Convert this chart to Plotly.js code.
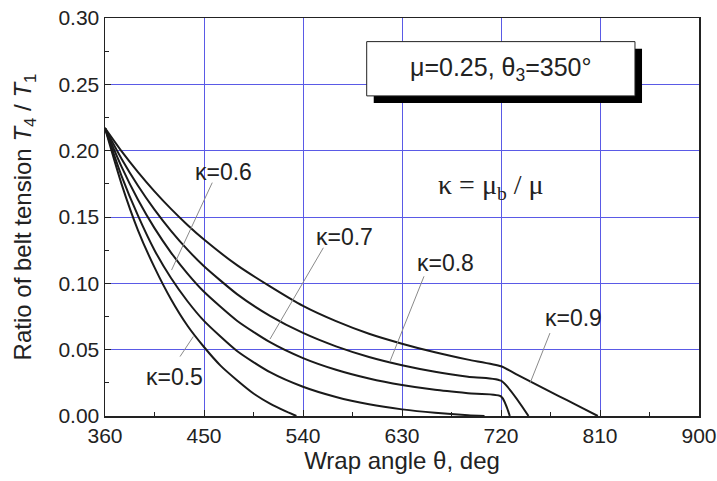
<!DOCTYPE html>
<html>
<head>
<meta charset="utf-8">
<script src="https://cdn.plot.ly/plotly-3.0.1.min.js"></script>
<style>html,body{margin:0;padding:0;background:#fff;}#chart{width:717px;height:481px;}</style>
</head>
<body>
<div id="chart"></div>
<script>
// Wrap angle (deg) and tension ratio T4/T1
const theta05 = [360, 375, 390, 405, 420, 435, 450, 465, 480, 495, 510, 525, 534];
const ratio05 = [0.217, 0.175, 0.140, 0.112, 0.088, 0.068, 0.052, 0.038, 0.027, 0.017, 0.0094, 0.0033, 0.0];

const theta06 = [360, 375, 390, 405, 420, 435, 450, 480, 510, 540, 570, 600, 630, 660, 690, 705];
const ratio06 = [0.217, 0.181, 0.151, 0.125, 0.104, 0.0865, 0.0717, 0.049, 0.033, 0.022, 0.0143, 0.0088, 0.005, 0.0024, 0.0006, 0.0];

const theta07 = [360, 375, 390, 405, 420, 435, 450, 480, 510, 540, 570, 600, 630, 660, 690, 720, 728];
const ratio07 = [0.217, 0.188, 0.163, 0.1416, 0.1232, 0.1073, 0.0936, 0.0718, 0.0556, 0.0436, 0.0348, 0.0282, 0.0233, 0.0197, 0.0171, 0.0148, 0.0];

const theta08 = [360, 375, 390, 405, 420, 435, 450, 480, 510, 540, 570, 600, 630, 660, 690, 720, 745];
const ratio08 = [0.217, 0.194, 0.1736, 0.1556, 0.1396, 0.1254, 0.1129, 0.0919, 0.0755, 0.0626, 0.0525, 0.0445, 0.0383, 0.0334, 0.0296, 0.0266, 0.0];

const theta09 = [360, 375, 390, 405, 420, 435, 450, 480, 510, 540, 570, 600, 630, 660, 690, 720, 735, 750, 765, 780, 795, 808];
const ratio09 = [0.217, 0.1996, 0.1838, 0.1693, 0.1561, 0.144, 0.133, 0.1137, 0.0977, 0.083, 0.0715, 0.062, 0.0545, 0.048, 0.0425, 0.0375, 0.031, 0.0246, 0.0182, 0.0119, 0.0055, 0.0];

const kappaLabels = ['κ=0.5', 'κ=0.6', 'κ=0.7', 'κ=0.8', 'κ=0.9'];
const xTicks = [360, 450, 540, 630, 720, 810, 900];
const yTicks = [0.00, 0.05, 0.10, 0.15, 0.20, 0.25, 0.30];

const series = [[theta05, ratio05], [theta06, ratio06], [theta07, ratio07], [theta08, ratio08], [theta09, ratio09]];
const traces = series.map((s, i) => ({
  x: s[0], y: s[1], type: 'scatter', mode: 'lines', name: kappaLabels[i],
  line: {color: '#1a1a1a', width: 2, shape: 'spline', smoothing: 0.6},
  hoverinfo: 'skip', showlegend: false
}));

// label placements (text position, pointer start, pointer end)
const labelPos = [
  {tx: 423.6, ty: 0.0297, x0: 428.2, y0: 0.0448, x1: 440.3, y1: 0.0599},
  {tx: 467.3, ty: 0.1837, x0: 457.5, y0: 0.1759, x1: 420.5, y1: 0.110},
  {tx: 578.0, ty: 0.1353, x0: 558.5, y0: 0.1268, x1: 510.0, y1: 0.058},
  {tx: 669.5, ty: 0.1154, x0: 650.0, y0: 0.1053, x1: 619.0, y1: 0.041},
  {tx: 785.5, ty: 0.0738, x0: 764.5, y0: 0.0625, x1: 746.4, y1: 0.0247}
];

const shapes = labelPos.map(p => ({
  type: 'line', xref: 'x', yref: 'y', x0: p.x0, y0: p.y0, x1: p.x1, y1: p.y1,
  line: {color: '#8a8a8a', width: 1}
}));
// boxed note with drop shadow
shapes.push({type: 'rect', xref: 'x', yref: 'y', x0: 604.3, x1: 848.2, y0: 0.2360, y1: 0.2769,
  fillcolor: '#000', line: {width: 0}});
shapes.push({type: 'rect', xref: 'x', yref: 'y', x0: 597.9, x1: 841.8, y0: 0.2413, y1: 0.2822,
  fillcolor: '#fff', line: {color: '#222', width: 1}});

const annotations = labelPos.map((p, i) => ({
  x: p.tx, y: p.ty, xref: 'x', yref: 'y', text: kappaLabels[i], showarrow: false,
  font: {family: 'Liberation Sans, Arial, sans-serif', size: 23, color: '#222'}
}));
annotations.push({x: 720, y: 0.2617, xref: 'x', yref: 'y', showarrow: false,
  text: 'μ=0.25, θ<sub>3</sub>=350°',
  font: {family: 'Liberation Sans, Arial, sans-serif', size: 25, color: '#222'}});
annotations.push({x: 711, y: 0.1731, xref: 'x', yref: 'y', showarrow: false,
  text: 'κ = μ<sub>b</sub> / μ',
  font: {family: 'Liberation Serif, Times New Roman, serif', size: 28, color: '#222'}});

const layout = {
  width: 717, height: 481,
  margin: {l: 105, r: 18, t: 18, b: 65},
  paper_bgcolor: '#fff', plot_bgcolor: '#fff',
  font: {family: 'Liberation Sans, Arial, sans-serif', color: '#222', size: 21},
  xaxis: {
    range: [360, 900], tickvals: xTicks, ticktext: xTicks.map(String),
    showgrid: true, gridcolor: '#5a5ae6', gridwidth: 1,
    showline: true, linecolor: '#222', linewidth: 1.5, mirror: true,
    ticks: 'inside', ticklen: 6, tickcolor: '#222',
    minor: {ticks: 'inside', dtick: 45, ticklen: 4, tickcolor: '#222', showgrid: false},
    zeroline: false,
    tickfont: {size: 21},
    title: {text: 'Wrap angle θ, deg', font: {size: 24}, standoff: 6}
  },
  yaxis: {
    range: [0, 0.30], tickvals: yTicks, ticktext: yTicks.map(v => v.toFixed(2)),
    showgrid: true, gridcolor: '#5a5ae6', gridwidth: 1,
    showline: true, linecolor: '#222', linewidth: 1.5, mirror: true,
    ticks: 'inside', ticklen: 6, tickcolor: '#222',
    minor: {ticks: 'inside', dtick: 0.025, ticklen: 4, tickcolor: '#222', showgrid: false},
    zeroline: false,
    tickfont: {size: 21},
    title: {text: 'Ratio of belt tension <i>T</i><sub>4</sub> / <i>T</i><sub>1</sub>', font: {size: 24}, standoff: 20}
  },
  shapes: shapes,
  annotations: annotations
};

Plotly.newPlot('chart', traces, layout, {displayModeBar: false, staticPlot: true});
</script>
</body>
</html>
